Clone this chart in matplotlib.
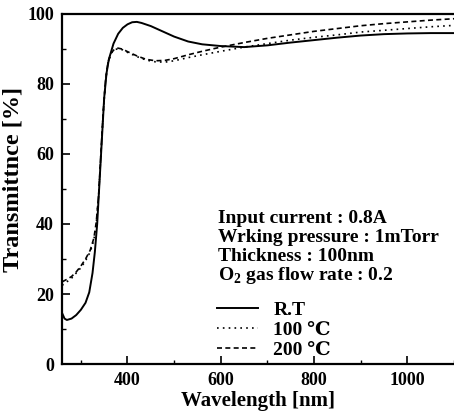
import matplotlib
matplotlib.use("Agg")
import matplotlib.pyplot as plt
from matplotlib.ticker import MultipleLocator

# wavelength [nm] and transmittance [%]
wl_rt = [260, 265, 270, 280, 290, 300, 310, 318, 325, 330, 335, 340, 345, 350, 355, 360, 370,
         380, 390, 400, 410, 420, 430, 450, 475, 500, 530, 560, 600, 650, 700, 750, 800, 850,
         900, 950, 1000, 1050, 1100]
t_rt = [14.5, 13.0, 12.6, 13.0, 14.0, 15.5, 17.5, 20.5, 26, 32, 40, 52, 64, 76, 83, 87, 91.5,
        94.3, 96.0, 97.0, 97.6, 97.7, 97.4, 96.5, 95.0, 93.5, 92.1, 91.3, 90.8, 90.5, 91.0,
        91.8, 92.5, 93.2, 93.8, 94.2, 94.4, 94.5, 94.5]

wl_100 = [260, 270, 280, 290, 300, 310, 320, 328, 333, 338, 343, 348, 353, 358, 365, 372, 380,
          390, 400, 420, 440, 460, 480, 500, 530, 560, 600, 650, 700, 750, 800, 850, 900,
          950, 1000, 1050, 1100]
t_100 = [22.5, 23.5, 24.5, 26.0, 27.5, 29.5, 32, 35.5, 40, 48, 60, 72, 81, 86, 88.8, 89.8, 90.0,
         89.7, 89.0, 87.8, 86.8, 86.3, 86.2, 86.6, 87.5, 88.3, 89.3, 90.5, 91.5, 92.5, 93.3,
         94.0, 94.8, 95.3, 95.8, 96.3, 96.7]

wl_200 = [260, 270, 280, 290, 300, 310, 320, 328, 333, 338, 343, 348, 353, 358, 365, 372, 380,
          390, 400, 420, 440, 460, 480, 500, 530, 560, 600, 650, 700, 750, 800, 850, 900,
          950, 1000, 1050, 1100]
t_200 = [23.5, 24.2, 25.0, 26.3, 28.0, 30.0, 32.5, 36, 40.5, 48, 60, 72, 81, 86, 88.8, 89.9, 90.2,
         89.9, 89.2, 88.0, 87.0, 86.6, 86.7, 87.2, 88.3, 89.3, 90.5, 91.8, 93.0, 94.0, 95.0,
         95.8, 96.6, 97.2, 97.7, 98.2, 98.6]

labels = ["R.T", "100 \u2103", "200 \u2103"]
info = ["Input current : 0.8A", "Wrking pressure : 1mTorr", "Thickness : 100nm",
        r"O$_\mathbf{2}$ gas flow rate : 0.2"]

plt.rcParams["font.family"] = ["Liberation Serif", "DejaVu Serif"]
plt.rcParams["font.weight"] = "bold"
plt.rcParams["mathtext.fontset"] = "custom"
plt.rcParams["mathtext.rm"] = "Liberation Serif:bold"
plt.rcParams["mathtext.bf"] = "Liberation Serif:bold"

fig = plt.figure(figsize=(4.54, 4.19), dpi=100)
ax = fig.add_axes([0.137, 0.131, 0.863, 0.836])

ax.plot(wl_rt, t_rt, color="black", lw=1.4, ls="-", label=labels[0])
ax.plot(wl_100, t_100, color="black", lw=1.2, ls=(0, (1, 2.5)), label=labels[1])
ax.plot(wl_200, t_200, color="black", lw=1.2, ls=(0, (3, 2)), label=labels[2])

ax.set_xlim(260, 1100)
ax.set_ylim(0, 100)
ax.xaxis.set_major_locator(MultipleLocator(200))
ax.xaxis.set_minor_locator(MultipleLocator(100))
ax.yaxis.set_major_locator(MultipleLocator(20))
ax.yaxis.set_minor_locator(MultipleLocator(10))
ax.tick_params(which="major", direction="in", length=6, width=1.2, labelsize=13, pad=6)
ax.tick_params(which="minor", direction="in", length=3, width=1.0)
ax.spines["right"].set_visible(False)
for s in ["left", "bottom", "top"]:
    ax.spines[s].set_linewidth(1.6)

ax.set_xlabel("Wavelength [nm]", fontsize=15, fontweight="bold")
ax.xaxis.set_label_coords(0.5, -0.078)
ax.set_ylabel("Transmittnce [%]", fontsize=17.5, fontweight="bold")
ax.yaxis.set_label_coords(-0.1, 0.526)

for i, line in enumerate(info):
    fig.text(218 / 454, 1 - (218 + 19 * i) / 419, line, fontsize=14, fontweight="bold",
             va="center", ha="left")

ax.legend(loc="upper left", bbox_to_anchor=(217 / 454, 1 - 301 / 419),
          bbox_transform=fig.transFigure, frameon=False, borderpad=0, borderaxespad=0,
          handlelength=2.1, handletextpad=0.8, labelspacing=0.12,
          prop={"weight": "bold", "size": 14})

fig.savefig("out.png", dpi=100)
